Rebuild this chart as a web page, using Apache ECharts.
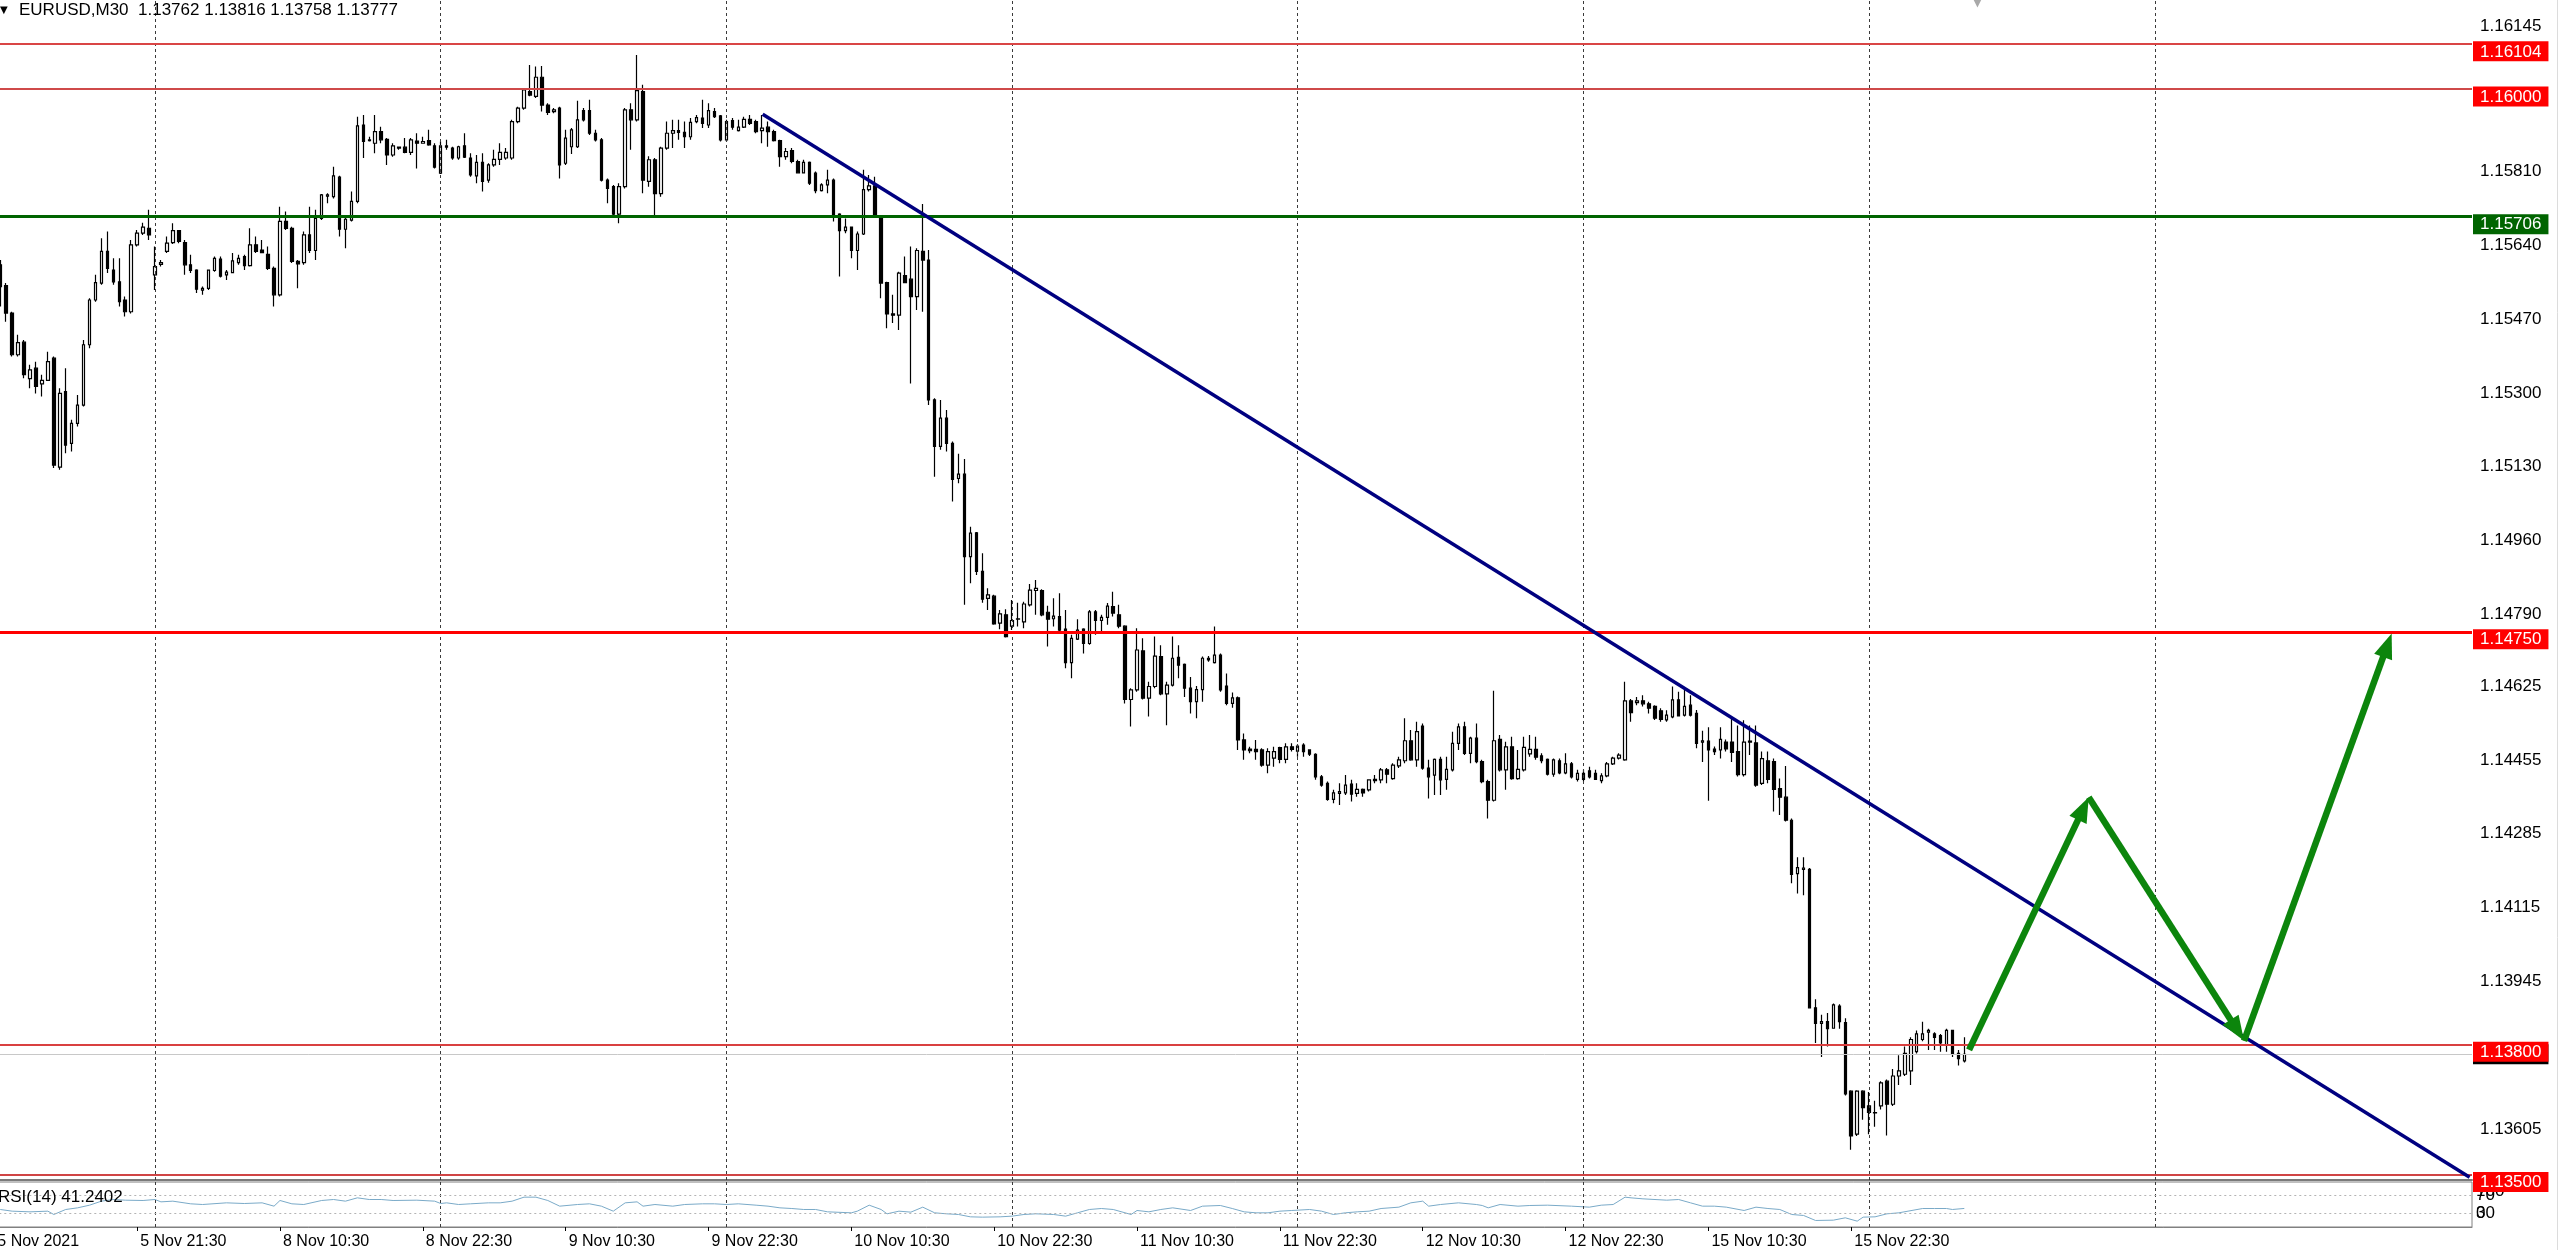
<!DOCTYPE html>
<html>
<head>
<meta charset="utf-8">
<title>EURUSD,M30</title>
<script src="https://cdn.jsdelivr.net/npm/echarts@6.0.0/dist/echarts.min.js"></script>
<style>
html, body { margin: 0; padding: 0; background: #fff; }
#chart { width: 2560px; height: 1250px; }
</style>
</head>
<body>
<div id="chart"></div>
<script>
// EURUSD M30, one row per bar: [open, close, low, high]
var candles = [
  [1.15640,1.15600,1.15585,1.15660],[1.15595,1.15545,1.15499,1.15606],[1.15547,1.15484,1.15464,1.15553],[1.15484,1.15388,1.15384,1.15487],
  [1.15388,1.15416,1.15384,1.15434],[1.15417,1.15342,1.15334,1.15422],[1.15333,1.15353,1.15311,1.15365],[1.15357,1.15315,1.15299,1.15372],
  [1.15321,1.15329,1.15292,1.15342],[1.15329,1.15372,1.15328,1.15395],[1.15380,1.15134,1.15127,1.15384],[1.15129,1.15299,1.15123,1.15311],
  [1.15303,1.15180,1.15161,1.15357],[1.15184,1.15230,1.15165,1.15238],[1.15230,1.15272,1.15223,1.15295],[1.15272,1.15411,1.15269,1.15422],
  [1.15411,1.15514,1.15403,1.15518],[1.15514,1.15554,1.15510,1.15572],[1.15553,1.15626,1.15549,1.15656],[1.15626,1.15587,1.15576,1.15672],
  [1.15583,1.15556,1.15549,1.15610],[1.15556,1.15510,1.15499,1.15610],[1.15514,1.15487,1.15476,1.15522],[1.15487,1.15641,1.15483,1.15652],
  [1.15641,1.15668,1.15637,1.15675],[1.15668,1.15682,1.15664,1.15692],[1.15679,1.15664,1.15652,1.15722],[1.15572,1.15591,1.15537,1.15637],
  [1.15596,1.15600,1.15591,1.15606],[1.15626,1.15645,1.15622,1.15660],[1.15646,1.15674,1.15643,1.15691],[1.15674,1.15649,1.15645,1.15675],
  [1.15646,1.15595,1.15572,1.15652],[1.15595,1.15582,1.15576,1.15618],[1.15583,1.15539,1.15530,1.15585],[1.15537,1.15541,1.15526,1.15545],
  [1.15541,1.15583,1.15537,1.15583],[1.15582,1.15610,1.15579,1.15614],[1.15608,1.15569,1.15566,1.15614],[1.15572,1.15578,1.15560,1.15583],
  [1.15577,1.15604,1.15576,1.15622],[1.15600,1.15610,1.15595,1.15618],[1.15614,1.15593,1.15583,1.15618],[1.15593,1.15641,1.15591,1.15679],
  [1.15641,1.15626,1.15622,1.15660],[1.15629,1.15623,1.15622,1.15652],[1.15619,1.15587,1.15583,1.15637],[1.15587,1.15526,1.15499,1.15591],
  [1.15526,1.15695,1.15522,1.15729],[1.15695,1.15679,1.15675,1.15718],[1.15679,1.15603,1.15599,1.15683],[1.15603,1.15597,1.15541,1.15606],
  [1.15600,1.15664,1.15595,1.15672],[1.15664,1.15628,1.15622,1.15729],[1.15628,1.15702,1.15606,1.15722],[1.15702,1.15756,1.15698,1.15758],
  [1.15753,1.15756,1.15737,1.15760],[1.15752,1.15800,1.15748,1.15821],[1.15797,1.15677,1.15660,1.15800],[1.15677,1.15700,1.15633,1.15706],
  [1.15698,1.15741,1.15695,1.15764],[1.15741,1.15915,1.15737,1.15936],[1.15917,1.15879,1.15841,1.15940],[1.15881,1.15883,1.15879,1.15890],
  [1.15875,1.15902,1.15852,1.15940],[1.15902,1.15883,1.15875,1.15913],[1.15884,1.15848,1.15825,1.15887],[1.15848,1.15869,1.15844,1.15875],
  [1.15866,1.15864,1.15860,1.15867],[1.15866,1.15854,1.15852,1.15887],[1.15854,1.15883,1.15848,1.15887],[1.15880,1.15875,1.15817,1.15898],
  [1.15875,1.15879,1.15874,1.15890],[1.15881,1.15871,1.15869,1.15906],[1.15869,1.15820,1.15817,1.15875],[1.15806,1.15869,1.15804,1.15879],
  [1.15866,1.15869,1.15860,1.15883],[1.15864,1.15841,1.15837,1.15867],[1.15841,1.15867,1.15837,1.15869],[1.15869,1.15843,1.15841,1.15898],
  [1.15841,1.15802,1.15798,1.15852],[1.15800,1.15831,1.15783,1.15848],[1.15831,1.15787,1.15764,1.15852],[1.15790,1.15825,1.15784,1.15829],
  [1.15825,1.15838,1.15821,1.15860],[1.15838,1.15854,1.15825,1.15875],[1.15841,1.15854,1.15837,1.15864],[1.15841,1.15925,1.15837,1.15929],
  [1.15925,1.15956,1.15921,1.15959],[1.15956,1.15998,1.15952,1.16002],[1.15994,1.15986,1.15983,1.16055],[1.15983,1.16027,1.15979,1.16052],
  [1.16027,1.15963,1.15948,1.16053],[1.15963,1.15946,1.15940,1.15967],[1.15948,1.15952,1.15944,1.15956],[1.15956,1.15825,1.15794,1.15959],
  [1.15829,1.15887,1.15825,1.15906],[1.15867,1.15906,1.15850,1.15910],[1.15867,1.15929,1.15864,1.15973],[1.15950,1.15929,1.15925,1.15956],
  [1.15950,1.15898,1.15894,1.15975],[1.15898,1.15883,1.15879,1.15906],[1.15883,1.15790,1.15787,1.15887],[1.15790,1.15771,1.15737,1.15794],
  [1.15775,1.15712,1.15710,1.15779],[1.15712,1.15775,1.15691,1.15783],[1.15775,1.15952,1.15771,1.15956],[1.15952,1.15929,1.15860,1.15967],
  [1.15929,1.15996,1.15925,1.16078],[1.15994,1.15790,1.15760,1.16010],[1.15787,1.15837,1.15775,1.15845],[1.15837,1.15759,1.15706,1.15841],
  [1.15759,1.15864,1.15752,1.15867],[1.15864,1.15898,1.15860,1.15925],[1.15898,1.15904,1.15864,1.15929],[1.15904,1.15900,1.15883,1.15929],
  [1.15900,1.15890,1.15864,1.15925],[1.15890,1.15923,1.15883,1.15933],[1.15925,1.15934,1.15921,1.15940],[1.15933,1.15921,1.15910,1.15975],
  [1.15917,1.15950,1.15910,1.15967],[1.15948,1.15936,1.15933,1.15956],[1.15938,1.15883,1.15879,1.15940],[1.15883,1.15925,1.15879,1.15929],
  [1.15927,1.15912,1.15906,1.15933],[1.15904,1.15912,1.15902,1.15929],[1.15912,1.15930,1.15910,1.15936],[1.15930,1.15921,1.15917,1.15940],
  [1.15925,1.15902,1.15898,1.15929],[1.15904,1.15910,1.15875,1.15940],[1.15912,1.15902,1.15867,1.15925],[1.15902,1.15881,1.15879,1.15906],
  [1.15881,1.15844,1.15821,1.15883],[1.15844,1.15856,1.15837,1.15864],[1.15858,1.15833,1.15829,1.15864],[1.15833,1.15807,1.15806,1.15837],
  [1.15807,1.15831,1.15806,1.15837],[1.15831,1.15783,1.15779,1.15833],[1.15806,1.15766,1.15760,1.15810],[1.15766,1.15779,1.15764,1.15783],
  [1.15779,1.15790,1.15760,1.15814],[1.15790,1.15710,1.15695,1.15794],[1.15712,1.15674,1.15568,1.15714],[1.15674,1.15682,1.15668,1.15702],
  [1.15682,1.15628,1.15610,1.15683],[1.15628,1.15666,1.15583,1.15672],[1.15666,1.15768,1.15664,1.15814],[1.15768,1.15777,1.15764,1.15802],
  [1.15777,1.15708,1.15706,1.15798],[1.15702,1.15553,1.15518,1.15706],[1.15554,1.15482,1.15449,1.15556],[1.15482,1.15479,1.15461,1.15526],
  [1.15479,1.15576,1.15445,1.15579],[1.15570,1.15554,1.15553,1.15614],[1.15562,1.15522,1.15322,1.15637],[1.15522,1.15628,1.15491,1.15633],
  [1.15626,1.15606,1.15487,1.15735],[1.15606,1.15284,1.15272,1.15629],[1.15284,1.15177,1.15107,1.15288],[1.15177,1.15242,1.15169,1.15284],
  [1.15242,1.15184,1.15165,1.15261],[1.15184,1.15101,1.15050,1.15188],[1.15103,1.15113,1.15092,1.15160],[1.15113,1.14923,1.14812,1.15148],
  [1.14923,1.14977,1.14862,1.14992],[1.14978,1.14889,1.14881,1.14980],[1.14889,1.14825,1.14817,1.14931],[1.14827,1.14835,1.14800,1.14850],
  [1.14832,1.14768,1.14766,1.14835],[1.14770,1.14791,1.14756,1.14800],[1.14789,1.14739,1.14737,1.14802],[1.14763,1.14776,1.14754,1.14823],
  [1.14779,1.14780,1.14762,1.14817],[1.14773,1.14814,1.14758,1.14819],[1.14812,1.14846,1.14808,1.14860],[1.14845,1.14850,1.14789,1.14869],
  [1.14845,1.14789,1.14786,1.14848],[1.14795,1.14779,1.14716,1.14810],[1.14780,1.14786,1.14762,1.14827],[1.14785,1.14754,1.14750,1.14839],
  [1.14756,1.14679,1.14666,1.14800],[1.14679,1.14735,1.14643,1.14743],[1.14733,1.14754,1.14731,1.14779],[1.14756,1.14723,1.14700,1.14758],
  [1.14723,1.14796,1.14720,1.14800],[1.14796,1.14776,1.14743,1.14800],[1.14776,1.14783,1.14746,1.14789],[1.14783,1.14809,1.14766,1.14816],
  [1.14808,1.14793,1.14785,1.14842],[1.14789,1.14763,1.14758,1.14812],[1.14763,1.14594,1.14585,1.14765],[1.14594,1.14616,1.14532,1.14620],
  [1.14616,1.14708,1.14612,1.14758],[1.14706,1.14597,1.14594,1.14735],[1.14597,1.14624,1.14555,1.14635],[1.14624,1.14694,1.14620,1.14739],
  [1.14693,1.14607,1.14604,1.14719],[1.14607,1.14627,1.14535,1.14635],[1.14627,1.14689,1.14624,1.14739],[1.14691,1.14673,1.14643,1.14719],
  [1.14675,1.14620,1.14600,1.14677],[1.14620,1.14589,1.14562,1.14646],[1.14589,1.14617,1.14551,1.14625],[1.14617,1.14689,1.14589,1.14693],
  [1.14689,1.14685,1.14681,1.14694],[1.14679,1.14696,1.14677,1.14762],[1.14696,1.14616,1.14612,1.14700],[1.14625,1.14585,1.14581,1.14654],
  [1.14585,1.14598,1.14575,1.14610],[1.14598,1.14501,1.14478,1.14601],[1.14501,1.14478,1.14455,1.14516],[1.14480,1.14476,1.14470,1.14485],
  [1.14479,1.14474,1.14455,1.14501],[1.14478,1.14443,1.14439,1.14482],[1.14443,1.14474,1.14424,1.14482],[1.14459,1.14474,1.14439,1.14485],
  [1.14483,1.14456,1.14447,1.14485],[1.14456,1.14485,1.14447,1.14493],[1.14485,1.14479,1.14474,1.14493],[1.14475,1.14487,1.14462,1.14491],
  [1.14489,1.14474,1.14462,1.14493],[1.14478,1.14468,1.14464,1.14479],[1.14468,1.14416,1.14409,1.14470],[1.14416,1.14397,1.14393,1.14420],
  [1.14401,1.14364,1.14361,1.14405],[1.14364,1.14379,1.14355,1.14386],[1.14378,1.14382,1.14351,1.14401],[1.14379,1.14397,1.14374,1.14420],
  [1.14399,1.14376,1.14359,1.14409],[1.14378,1.14387,1.14370,1.14401],[1.14387,1.14379,1.14370,1.14389],[1.14386,1.14409,1.14382,1.14410],
  [1.14407,1.14410,1.14401,1.14420],[1.14409,1.14432,1.14401,1.14436],[1.14432,1.14422,1.14401,1.14436],[1.14412,1.14443,1.14409,1.14447],
  [1.14441,1.14455,1.14436,1.14462],[1.14453,1.14499,1.14447,1.14551],[1.14499,1.14455,1.14453,1.14524],[1.14455,1.14520,1.14439,1.14543],
  [1.14533,1.14436,1.14432,1.14539],[1.14436,1.14416,1.14366,1.14455],[1.14420,1.14456,1.14374,1.14458],[1.14456,1.14409,1.14374,1.14462],
  [1.14410,1.14433,1.14386,1.14462],[1.14432,1.14493,1.14428,1.14520],[1.14493,1.14531,1.14478,1.14539],[1.14531,1.14470,1.14466,1.14543],
  [1.14470,1.14505,1.14447,1.14508],[1.14505,1.14451,1.14447,1.14539],[1.14451,1.14405,1.14401,1.14455],[1.14405,1.14362,1.14320,1.14409],
  [1.14362,1.14499,1.14359,1.14614],[1.14502,1.14432,1.14428,1.14512],[1.14432,1.14485,1.14386,1.14497],[1.14485,1.14412,1.14409,1.14508],
  [1.14412,1.14433,1.14409,1.14478],[1.14432,1.14484,1.14428,1.14508],[1.14469,1.14479,1.14462,1.14512],[1.14479,1.14461,1.14455,1.14508],
  [1.14464,1.14453,1.14447,1.14470],[1.14456,1.14422,1.14419,1.14458],[1.14422,1.14455,1.14416,1.14458],[1.14453,1.14425,1.14422,1.14458],
  [1.14425,1.14446,1.14422,1.14470],[1.14446,1.14416,1.14412,1.14450],[1.14410,1.14424,1.14405,1.14432],[1.14424,1.14410,1.14405,1.14432],
  [1.14430,1.14416,1.14412,1.14439],[1.14424,1.14410,1.14409,1.14432],[1.14407,1.14418,1.14401,1.14424],[1.14418,1.14446,1.14415,1.14450],
  [1.14446,1.14459,1.14443,1.14462],[1.14459,1.14466,1.14456,1.14470],[1.14455,1.14591,1.14453,1.14635],[1.14591,1.14564,1.14543,1.14595],
  [1.14587,1.14591,1.14581,1.14600],[1.14591,1.14584,1.14578,1.14604],[1.14584,1.14574,1.14562,1.14589],[1.14578,1.14551,1.14547,1.14581],
  [1.14568,1.14548,1.14543,1.14574],[1.14547,1.14558,1.14543,1.14569],[1.14554,1.14593,1.14551,1.14624],[1.14593,1.14556,1.14555,1.14612],
  [1.14558,1.14578,1.14555,1.14620],[1.14581,1.14558,1.14555,1.14604],[1.14562,1.14493,1.14482,1.14570],[1.14496,1.14499,1.14450,1.14522],
  [1.14498,1.14478,1.14361,1.14530],[1.14480,1.14474,1.14466,1.14486],[1.14478,1.14502,1.14458,1.14530],[1.14496,1.14480,1.14474,1.14502],
  [1.14496,1.14472,1.14450,1.14555],[1.14474,1.14421,1.14417,1.14534],[1.14421,1.14496,1.14417,1.14546],[1.14496,1.14498,1.14466,1.14534],
  [1.14494,1.14397,1.14393,1.14534],[1.14401,1.14458,1.14397,1.14474],[1.14453,1.14410,1.14401,1.14474],[1.14451,1.14387,1.14336,1.14458],
  [1.14389,1.14369,1.14328,1.14412],[1.14369,1.14316,1.14313,1.14441],[1.14316,1.14191,1.14171,1.14320],[1.14193,1.14207,1.14147,1.14231],
  [1.14203,1.14206,1.14143,1.14231],[1.14203,1.13884,1.13884,1.14206],[1.13884,1.13848,1.13803,1.13904],[1.13848,1.13852,1.13771,1.13868],
  [1.13852,1.13836,1.13795,1.13872],[1.13837,1.13891,1.13836,1.13894],[1.13888,1.13852,1.13836,1.13892],[1.13850,1.13686,1.13682,1.13860],
  [1.13692,1.13589,1.13557,1.13694],[1.13593,1.13692,1.13589,1.13694],[1.13692,1.13654,1.13626,1.13694],[1.13658,1.13643,1.13593,1.13690],
  [1.13642,1.13643,1.13610,1.13670],[1.13658,1.13711,1.13650,1.13715],[1.13715,1.13662,1.13590,1.13719],[1.13662,1.13727,1.13658,1.13743],
  [1.13727,1.13739,1.13706,1.13775],[1.13731,1.13779,1.13727,1.13795],[1.13739,1.13811,1.13706,1.13816],[1.13783,1.13824,1.13779,1.13832],
  [1.13811,1.13824,1.13807,1.13852],[1.13828,1.13832,1.13787,1.13836],[1.13824,1.13816,1.13787,1.13828],[1.13820,1.13803,1.13783,1.13824],
  [1.13799,1.13832,1.13783,1.13836],[1.13832,1.13779,1.13771,1.13833],[1.13779,1.13767,1.13751,1.13787],[1.13762,1.13777,1.13758,1.13816]
];

// RSI(14): [bar, value]
var rsiPoints = [
  [1,38.9],[3,35.2],[6,33.7],[9,35.2],[10,27.8],[12,38.9],[14,42.6],[16,48.5],[18,57.4],[20,61.1],[22,59.6],[25,58.9],
  [27,61.1],[28,55.9],[30,57.4],[33,51.5],[35,50.0],[39,53.7],[42,52.2],[45,53.7],[47,46.3],[48,58.9],[50,51.5],[52,50.0],
  [55,58.9],[57,61.1],[59,57.4],[61,64.8],[63,61.1],[65,61.1],[67,58.9],[71,59.6],[74,57.4],[75,52.2],[76,53.7],[78,50.0],
  [80,51.5],[83,53.7],[85,53.7],[87,57.4],[89,66.3],[91,66.3],[93,58.9],[95,46.3],[98,50.0],[100,51.5],[102,46.3],[104,35.2],
  [106,53.7],[108,55.9],[109,46.3],[111,50.0],[114,46.3],[116,50.0],[119,51.5],[121,51.5],[123,50.0],[125,51.5],[128,48.5],
  [130,46.3],[132,42.6],[134,41.1],[136,38.9],[138,38.9],[140,33.7],[144,31.5],[145,35.2],[147,48.5],[149,38.9],[150,29.3],
  [152,35.2],[154,33.0],[156,44.1],[158,31.5],[160,29.3],[162,27.8],[164,22.6],[166,21.9],[169,22.6],[171,24.1],[173,27.8],
  [175,29.3],[178,27.8],[180,24.1],[182,31.5],[184,38.9],[186,41.1],[188,38.9],[191,27.8],[192,36.7],[194,33.7],[196,38.9],
  [198,42.6],[201,36.7],[203,46.3],[206,47.8],[208,41.1],[210,33.7],[212,31.5],[214,31.5],[216,35.2],[218,36.7],[221,38.9],
  [223,35.2],[225,27.8],[227,31.5],[229,33.7],[231,35.2],[233,41.1],[236,44.1],[238,53.7],[240,57.4],[241,46.3],[243,50.0],
  [246,53.7],[249,50.0],[250,47.8],[251,42.6],[253,50.0],[256,46.3],[258,47.8],[261,48.5],[265,46.3],[268,44.1],[270,48.5],
  [272,50.0],[274,66.3],[275,64.8],[277,62.6],[281,59.6],[283,61.1],[285,53.7],[287,46.3],[289,46.3],[291,44.1],[294,36.7],
  [296,44.1],[298,41.1],[300,38.9],[302,27.8],[304,25.6],[306,14.5],[309,15.2],[311,20.4],[313,13.0],[314,21.9],[316,22.6],
  [318,29.3],[320,31.5],[324,41.1],[326,41.1],[328,41.1],[329,38.9],[331,41.2402]
];

var timeLabels = ['5 Nov 2021', '5 Nov 21:30', '8 Nov 10:30', '8 Nov 22:30', '9 Nov 10:30', '9 Nov 22:30', '10 Nov 10:30',
  '10 Nov 22:30', '11 Nov 10:30', '11 Nov 22:30', '12 Nov 10:30', '12 Nov 22:30', '15 Nov 10:30', '15 Nov 22:30'];
var timeTicks = [0, 24, 48, 72, 96, 120, 144, 168, 192, 216, 240, 264, 288, 312];
var dayStarts = [27, 75, 123, 171, 219, 267, 315, 363];

var priceTicks = [1.16145, 1.15810, 1.15640, 1.15470, 1.15300, 1.15130, 1.14960, 1.14790, 1.14625, 1.14455,
  1.14285, 1.14115, 1.13945, 1.13605];
var levelPrices = [1.16104, 1.16000, 1.15706, 1.14750, 1.13800, 1.13500];
var rsiLevels = [70, 30];
var rsiBounds = [0, 100];

var trendLine = [[129.1, 1.15942], [415.9, 1.13494]];
var arrowPath = [[331.8, 1.13787], [351.9, 1.14369], [378.0, 1.13808], [402.8, 1.14746]];
var chartShiftBar = 333.2;

var FONT = 'Liberation Sans, Arial, sans-serif';
var X_MIN = 0, X_MAX = 416.3;
var Y_MIN = 1.134875, Y_MAX = 1.162049;

var levelStyles = [
  { line: '#d94545', width: 2, box: '#ff0000' },
  { line: '#cf4a4a', width: 2, box: '#ff0000' },
  { line: '#006400', width: 3, box: '#006400' },
  { line: '#ff0000', width: 3, box: '#ff0000' },
  { line: '#d94040', width: 2, box: '#ff0000' },
  { line: '#d04545', width: 2, box: '#ff0000' }
];

var last = candles[candles.length - 1];
var bid = last[1];
var header = 'EURUSD,M30  ' + [last[0], last[3], last[2], last[1]].map(function (v) { return v.toFixed(5); }).join(' ');

var candleRows = candles.map(function (c, i) { return [i, c[0], c[1], c[2], c[3]]; });
var arrowSegments = [];
for (var k = 1; k < arrowPath.length; k++) {
  arrowSegments.push([arrowPath[k - 1][0], arrowPath[k - 1][1], arrowPath[k][0], arrowPath[k][1]]);
}

function priceBox(p, bg, shift) {
  return {
    show: true, position: 'end', distance: 1,
    formatter: '{b|' + p.toFixed(5) + '}',
    padding: [shift, 0, 0, 0],
    rich: { b: { backgroundColor: bg, color: '#fff', fontSize: 17, lineHeight: 17, padding: [2, 7, 1, 7], fontFamily: FONT } }
  };
}

var levelLines = levelPrices.map(function (p, i) {
  var s = levelStyles[i];
  return { yAxis: p, lineStyle: { color: s.line, width: s.width, type: 'solid' }, label: priceBox(p, s.box, 15) };
});

function renderArrow(params, api) {
  var a = api.coord([api.value(0), api.value(1)]);
  var b = api.coord([api.value(2), api.value(3)]);
  var dx = b[0] - a[0], dy = b[1] - a[1];
  var len = Math.sqrt(dx * dx + dy * dy);
  var ux = dx / len, uy = dy / len;
  var headLen = 25, headHalf = 9.5;
  var bx = b[0] - ux * headLen, by = b[1] - uy * headLen;
  return {
    type: 'group',
    children: [
      { type: 'line', shape: { x1: a[0], y1: a[1], x2: bx + ux * 3, y2: by + uy * 3 },
        style: { stroke: '#0c850c', lineWidth: 6.5 } },
      { type: 'polygon', shape: { points: [[b[0], b[1]], [bx - uy * headHalf, by + ux * headHalf], [bx + uy * headHalf, by - ux * headHalf]] },
        style: { fill: '#0c850c' } }
    ]
  };
}

var plainText = { fontSize: 17, fontWeight: 'normal', color: '#000', fontFamily: FONT };

var chart = echarts.init(document.getElementById('chart'), null, { renderer: 'canvas' });

var option = {
  animation: false,
  backgroundColor: '#ffffff',
  textStyle: { fontFamily: FONT },
  title: [
    { text: '\u25BC', left: 0, top: 5, padding: 0,
      textStyle: { fontSize: 10, fontWeight: 'normal', color: '#000', fontFamily: 'DejaVu Sans' } },
    { text: header, left: 19, top: 2, padding: 0, textStyle: plainText },
    { text: 'RSI(14) ' + rsiPoints[rsiPoints.length - 1][1].toFixed(4), left: -2, top: 1189, padding: 0, textStyle: plainText }
  ],
  grid: [
    { left: -5.7, right: 88, top: 0, height: 1180, containLabel: false, outerBoundsMode: 'none' },
    { left: -5.7, right: 88, top: 1182, height: 45, containLabel: false, outerBoundsMode: 'none',
      show: true, borderColor: '#808080', borderWidth: 1, backgroundColor: 'transparent' }
  ],
  xAxis: [
    { gridIndex: 0, type: 'value', min: X_MIN, max: X_MAX,
      axisLine: { show: true, onZero: false, lineStyle: { color: '#7a7a7a', width: 2 } },
      axisTick: { show: false }, axisLabel: { show: false }, splitLine: { show: false } },
    { gridIndex: 1, type: 'value', min: X_MIN, max: X_MAX,
      axisLine: { show: true, onZero: false, lineStyle: { color: '#808080', width: 1 } },
      axisTick: { show: true, customValues: timeTicks, length: 4, lineStyle: { color: '#000' } },
      axisLabel: { show: true, customValues: timeTicks, align: 'left', margin: 7, padding: [0, 0, 0, 3],
        fontSize: 16, color: '#000', fontFamily: FONT, showMinLabel: true,
        formatter: function (v) { var k = timeTicks.indexOf(v); return k >= 0 ? timeLabels[k] : ''; } },
      splitLine: { show: false } }
  ],
  yAxis: [
    { gridIndex: 0, type: 'value', position: 'right', min: Y_MIN, max: Y_MAX, scale: true,
      axisLine: { show: true, lineStyle: { color: '#808080', width: 1 } },
      axisTick: { show: true, customValues: priceTicks, length: 3, lineStyle: { color: '#000' } },
      axisLabel: { show: true, customValues: priceTicks, margin: 8, fontSize: 17, color: '#000', fontFamily: FONT,
        formatter: function (v) { return v.toFixed(5); } },
      splitLine: { show: false } },
    { gridIndex: 1, type: 'value', position: 'right', min: 0, max: 100,
      axisLine: { show: true, lineStyle: { color: '#808080', width: 1 } },
      axisTick: { show: false },
      axisLabel: { show: true, customValues: rsiLevels, margin: 4, fontSize: 17, color: '#000', fontFamily: FONT },
      splitLine: { show: false } },
    { gridIndex: 1, type: 'value', position: 'right', min: 0, max: 100,
      axisLine: { show: false }, axisTick: { show: false }, splitLine: { show: false },
      axisLabel: { show: true, customValues: rsiBounds, margin: 4, fontSize: 17, color: '#000', fontFamily: FONT,
        showMinLabel: true, showMaxLabel: true,
        formatter: function (v) { return v === 100 ? '{top|100}' : '{bot|0}'; },
        rich: {
          top: { fontSize: 17, lineHeight: 20, padding: [18, 0, 0, 0], fontFamily: FONT, color: '#000' },
          bot: { fontSize: 17, lineHeight: 20, padding: [0, 0, 28, 0], fontFamily: FONT, color: '#000' }
        } } }
  ],
  series: [
    { name: 'days', type: 'line', xAxisIndex: 0, yAxisIndex: 0, data: [], z: 1, silent: true,
      markLine: { silent: true, precision: 5, symbol: ['none', 'none'], label: { show: false },
        lineStyle: { color: '#3a3a3a', type: [3, 3], width: 1 },
        data: dayStarts.map(function (d) { return { xAxis: d }; }) } },
    { name: 'EURUSD', type: 'candlestick', xAxisIndex: 0, yAxisIndex: 0, data: candleRows, z: 2,
      encode: { x: 0, y: [1, 2, 3, 4] }, barWidth: 3,
      itemStyle: { color: '#ffffff', color0: '#000000', borderColor: '#000000', borderColor0: '#000000',
        borderColorDoji: '#000000', borderWidth: 1.2 } },
    { name: 'bid', type: 'line', xAxisIndex: 0, yAxisIndex: 0, data: [], z: 3, silent: true,
      markLine: { silent: true, precision: 5, symbol: ['none', 'none'],
        data: [{ yAxis: bid, lineStyle: { color: '#c8c8c8', width: 1, type: 'solid' }, label: priceBox(bid, '#000000', 0) }] } },
    { name: 'levels', type: 'line', xAxisIndex: 0, yAxisIndex: 0, data: [], z: 4, silent: true,
      markLine: { silent: true, precision: 5, symbol: ['none', 'none'], data: levelLines },
      markPoint: { silent: true, label: { show: false },
        data: [{ coord: [chartShiftBar, Y_MAX], symbol: 'triangle', symbolRotate: 180, symbolSize: [15, 15],
          itemStyle: { color: '#a9a9a9' } }] } },
    { name: 'trend', type: 'line', xAxisIndex: 0, yAxisIndex: 0, data: trendLine, z: 5, silent: true,
      symbol: 'none', lineStyle: { color: '#000080', width: 3.5 } },
    { name: 'scenario', type: 'custom', xAxisIndex: 0, yAxisIndex: 0, data: arrowSegments, z: 6, silent: true,
      encode: { x: [0, 2], y: [1, 3] }, renderItem: renderArrow },
    { name: 'rsiGrid', type: 'line', xAxisIndex: 1, yAxisIndex: 1, data: [], z: 1, silent: true,
      markLine: { silent: true, precision: 5, symbol: ['none', 'none'], label: { show: false },
        data: dayStarts.map(function (d) { return { xAxis: d, lineStyle: { color: '#3a3a3a', type: [3, 3], width: 1 } }; })
          .concat(rsiLevels.map(function (v) { return { yAxis: v, lineStyle: { color: '#b4b4b4', type: [2, 3], width: 1 } }; })) } },
    { name: 'RSI(14)', type: 'line', xAxisIndex: 1, yAxisIndex: 1, data: rsiPoints, z: 3, silent: true,
      symbol: 'none', lineStyle: { color: '#7aaac8', width: 1 } }
  ],
  graphic: [
    { type: 'line', shape: { x1: 2557.5, y1: 0, x2: 2557.5, y2: 1250 }, style: { stroke: '#dcdcdc', lineWidth: 1 }, silent: true }
  ]
};

chart.setOption(option);
</script>
</body>
</html>
